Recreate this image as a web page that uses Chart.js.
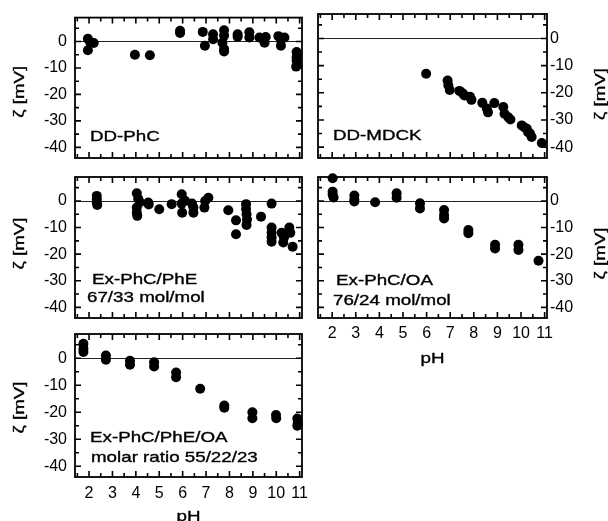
<!DOCTYPE html>
<html><head><meta charset="utf-8">
<script src="https://cdn.jsdelivr.net/npm/chart.js@4/dist/chart.umd.min.js"></script>
<style>
html,body{margin:0;padding:0;background:#fff;width:608px;height:521px;overflow:hidden}
canvas{position:absolute;left:0;top:0}
</style></head><body>
<canvas id="c1" width="608" height="521"></canvas>
<canvas id="c2" width="608" height="521"></canvas>
<canvas id="c3" width="608" height="521"></canvas>
<canvas id="c4" width="608" height="521"></canvas>
<canvas id="c5" width="608" height="521"></canvas>
<script>
// ---- tick values ----
const xTicks = [2,3,4,5,6,7,8,9,10,11];
const xMinorTicks = [1.5,2.5,3.5,4.5,5.5,6.5,7.5,8.5,9.5,10.5];
const yTicks = [0,-10,-20,-30,-40];
const yMinorTicks = [5,-5,-15,-25,-35];
const xTitle = 'pH';
const yTitle = 'ζ [mV]';

// ---- DD-PhC ----
const phDDPhC   = [1.95,2.05,2.2,1.95, 3.96,4.6, 5.89,5.89, 6.86,6.95,7.3,7.3, 7.77,7.77,7.7,7.77,7.77, 8.35,8.35, 8.85,8.85, 9.28,9.45,9.55,9.5, 10.09,10.2,10.2,10.35, 10.87,10.87,10.87,10.9,10.85];
const zetaDDPhC = [1.0,-0.3,-0.6,-3.3, -5.0,-5.2, 4.0,3.2, 3.6,-1.6,2.7,0.8, 4.2,2.2,-0.5,-2.9,-3.8, 2.7,1.8, 3.5,1.5, 1.5,0.7,1.7,-0.5, 2.0,-1.6,0.5,1.5, -4.0,-6.0,-7.2,-9.0,-9.5];

// ---- DD-MDCK ----
const phDDMDCK   = [5.98,6.89,6.92,6.98,7.39,7.53,7.6,7.84,7.9,8.36,8.55,8.6,8.87,9.25,9.3,9.46,9.55,10.03,10.15,10.24,10.3,10.38,10.45,10.88];
const zetaDDMDCK = [-13,-15.5,-17.2,-19,-19.3,-20.2,-21,-21.5,-22.6,-23.7,-25.8,-27.2,-23.8,-25.2,-27.7,-29,-29.8,-32,-32.8,-33.2,-34.5,-35,-36.3,-38.5];

// ---- Ex-PhC/PhE ----
const phPhCPhE   = [2.33,2.33,2.33,2.35, 4.04,4.1,4.18,4.04,4.04,4.06, 4.53,4.55, 5.0, 5.53, 5.96,6.1,5.96,5.98, 6.46,6.46,6.4, 6.96,7.1,6.93, 7.95, 8.28,8.28, 8.71,8.71,8.73,8.75,8.73, 9.35, 9.8,9.8,9.8,9.8,9.8, 10.23,10.3,10.33, 10.56,10.6,10.7];
const zetaPhCPhE = [1.9,0.5,-0.6,-1.5, 2.9,0.8,-0.5,-2.5,-4.4,-5.6, -0.6,-1.3, -3.1, -1.2, 2.5,0.1,-1.0,-4.4, -2.5,-4.4,-1.0, 0.0,1.2,-2.5, -3.5, -7.3,-12.5, -1.2,-3.0,-5.0,-7.0,-9.0, -5.9, -1.0,-10.0,-12.0,-13.7,-15.3, -12.0,-15.6,-13.7, -10.0,-12.0,-17.2];

// ---- Ex-PhC/OA ----
const phPhCOA   = [2.02,2.02,2.02,2.06, 2.94,2.94,2.94, 3.82, 4.73,4.73, 5.72,5.72, 6.74,6.74,6.74, 7.77,7.77, 8.9,8.9, 9.89,9.89, 10.74];
const zetaPhCOA = [8.5,3.5,2.3,1.3, 2.0,0.5,-0.2, -0.5, 2.9,1.2, -0.9,-2.8, -3.4,-5.3,-6.6, -10.9,-12.1, -16.5,-17.9, -16.5,-18.4, -22.5];

// ---- Ex-PhC/PhE/OA ----
const phPhCPhEOA   = [1.76,1.76,1.76, 2.72,2.72, 3.75,3.75, 4.78,4.78, 5.72,5.72, 6.75, 7.78,7.78, 8.98,8.98, 9.99,10.0, 10.9,10.92,10.9];
const zetaPhCPhEOA = [5.4,3.5,2.3, 1.0,-0.5, -0.9,-2.4, -1.5,-3.0, -5.3,-7.0, -11.3, -17.5,-18.3, -20.0,-22.2, -21.0,-22.2, -22.3,-24.0,-25.0];

const W = 608, H = 521;
const TXT = '15px "Liberation Sans", Arial, sans-serif';
const STRETCH = 1.25;

function drawText(ctx, s, align, baseline) {
  ctx.font = TXT;
  ctx.fillStyle = '#000';
  ctx.strokeStyle = '#000';
  ctx.lineWidth = 0.35;
  ctx.textAlign = align;
  ctx.textBaseline = baseline;
  ctx.fillText(s, 0, 0);
  ctx.strokeText(s, 0, 0);
}

function stretchedText(ctx, s, x, y, align) {
  ctx.save();
  ctx.translate(x, y);
  ctx.scale(STRETCH, 1);
  drawText(ctx, s, align, 'alphabetic');
  ctx.restore();
}

const framePlugin = {
  id: 'frame',
  beforeDatasetsDraw(chart) {
    const {ctx, chartArea: a, scales: {y}} = chart;
    const y0 = Math.round(y.getPixelForValue(0)) + 0.5;
    ctx.save();
    ctx.strokeStyle = '#222';
    ctx.lineWidth = 1;
    ctx.beginPath(); ctx.moveTo(a.left, y0); ctx.lineTo(a.right, y0); ctx.stroke();
    ctx.restore();
  },
  afterDraw(chart, args, o) {
    const {ctx, chartArea: a, scales: {x, y}} = chart;
    ctx.save();
    ctx.strokeStyle = '#000';
    ctx.lineWidth = 1.6;
    const tick = (vals, len, horiz) => {
      vals.forEach(v => {
        ctx.beginPath();
        if (horiz) {
          const p = x.getPixelForValue(v);
          ctx.moveTo(p, a.bottom); ctx.lineTo(p, a.bottom - len);
          ctx.moveTo(p, a.top); ctx.lineTo(p, a.top + len);
        } else {
          const p = y.getPixelForValue(v);
          ctx.moveTo(a.left, p); ctx.lineTo(a.left + len, p);
          ctx.moveTo(a.right, p); ctx.lineTo(a.right - len, p);
        }
        ctx.stroke();
      });
    };
    tick(xTicks, 6, true);
    tick(xMinorTicks, 4, true);
    tick(yTicks, 6, false);
    tick(yMinorTicks, 4, false);
    ctx.lineWidth = 1.8;
    ctx.strokeRect(a.left, a.top, a.right - a.left, a.bottom - a.top);
    ctx.restore();
    // annotations
    o.labels.forEach(l => stretchedText(ctx, l[0], l[1], l[2], 'left'));
    // y title
    const yc = (a.top + a.bottom) / 2 + o.yTitleDy;
    ctx.save();
    ctx.translate(o.yTitleX, yc);
    ctx.rotate(-Math.PI / 2);
    ctx.scale(STRETCH, 1);
    drawText(ctx, yTitle, 'center', 'middle');
    ctx.restore();
    if (o.xTitleY) stretchedText(ctx, xTitle, (a.left + a.right) / 2, o.xTitleY, 'center');
  }
};

const tickFont = {family: '"Liberation Sans", Arial, sans-serif', size: 16};

function makeChart(id, p) {
  const left = p.side === 'left';
  new Chart(document.getElementById(id), {
    type: 'scatter',
    data: {datasets: [{
      data: p.xs.map((v, i) => ({x: v, y: p.ys[i]})),
      backgroundColor: '#000', borderColor: '#000', borderWidth: 0,
      pointRadius: 5, pointHoverRadius: 5, clip: false
    }]},
    options: {
      responsive: false, animation: false, events: [],
      layout: {padding: {left: left ? 0 : p.box[0], right: left ? W - p.box[2] : 0, top: p.box[1], bottom: 0}},
      plugins: {legend: {display: false}, tooltip: {enabled: false},
        frame: {labels: p.labels, yTitleX: p.yTitleX, yTitleDy: p.yTitleDy, xTitleY: p.xTitleY}},
      scales: {
        x: {type: 'linear', position: 'bottom', min: 1.4, max: 11.1,
          afterBuildTicks: s => { s.ticks = xTicks.map(v => ({value: v})); },
          afterFit: s => { s.height = H - p.box[3]; },
          grid: {display: false, drawTicks: false}, border: {display: false},
          ticks: {display: !!p.xLabels, padding: p.xPad || 7, font: tickFont, color: '#000', callback: v => String(v), maxRotation: 0, autoSkip: false}},
        y: {type: 'linear', position: p.side, min: -44, max: 9,
          afterBuildTicks: s => { s.ticks = yTicks.map(v => ({value: v})); },
          afterFit: s => { s.width = left ? p.box[0] : W - p.box[2]; },
          grid: {display: false, drawTicks: false}, border: {display: false},
          ticks: {padding: left ? 8 : 3, font: tickFont, color: '#000', callback: v => String(v)}}
      }
    },
    plugins: [framePlugin]
  });
}

makeChart('c1', {side: 'left', box: [75, 14, 302, 158], xs: phDDPhC, ys: zetaDDPhC,
  labels: [['DD-PhC', 90, 141]], yTitleX: 20, yTitleDy: 4});
makeChart('c2', {side: 'right', box: [318, 14, 547, 158], xs: phDDMDCK, ys: zetaDDMDCK,
  labels: [['DD-MDCK', 333, 140]], yTitleX: 601, yTitleDy: 8});
makeChart('c3', {side: 'left', box: [75, 177, 302, 318], xs: phPhCPhE, ys: zetaPhCPhE,
  labels: [['Ex-PhC/PhE', 92, 284], ['67/33 mol/mol', 87, 302]], yTitleX: 20, yTitleDy: -4});
makeChart('c4', {side: 'right', box: [318, 177, 547, 318], xs: phPhCOA, ys: zetaPhCOA,
  labels: [['Ex-PhC/OA', 336, 285], ['76/24 mol/mol', 333, 305]], yTitleX: 601, yTitleDy: 6,
  xLabels: true, xPad: 6, xTitleY: 363});
makeChart('c5', {side: 'left', box: [75, 334, 302, 477], xs: phPhCPhEOA, ys: zetaPhCPhEOA,
  labels: [['Ex-PhC/PhE/OA', 90, 442], ['molar ratio 55/22/23', 91, 462]], yTitleX: 20, yTitleDy: 2,
  xLabels: true, xPad: 7, xTitleY: 521});
</script>
</body></html>
